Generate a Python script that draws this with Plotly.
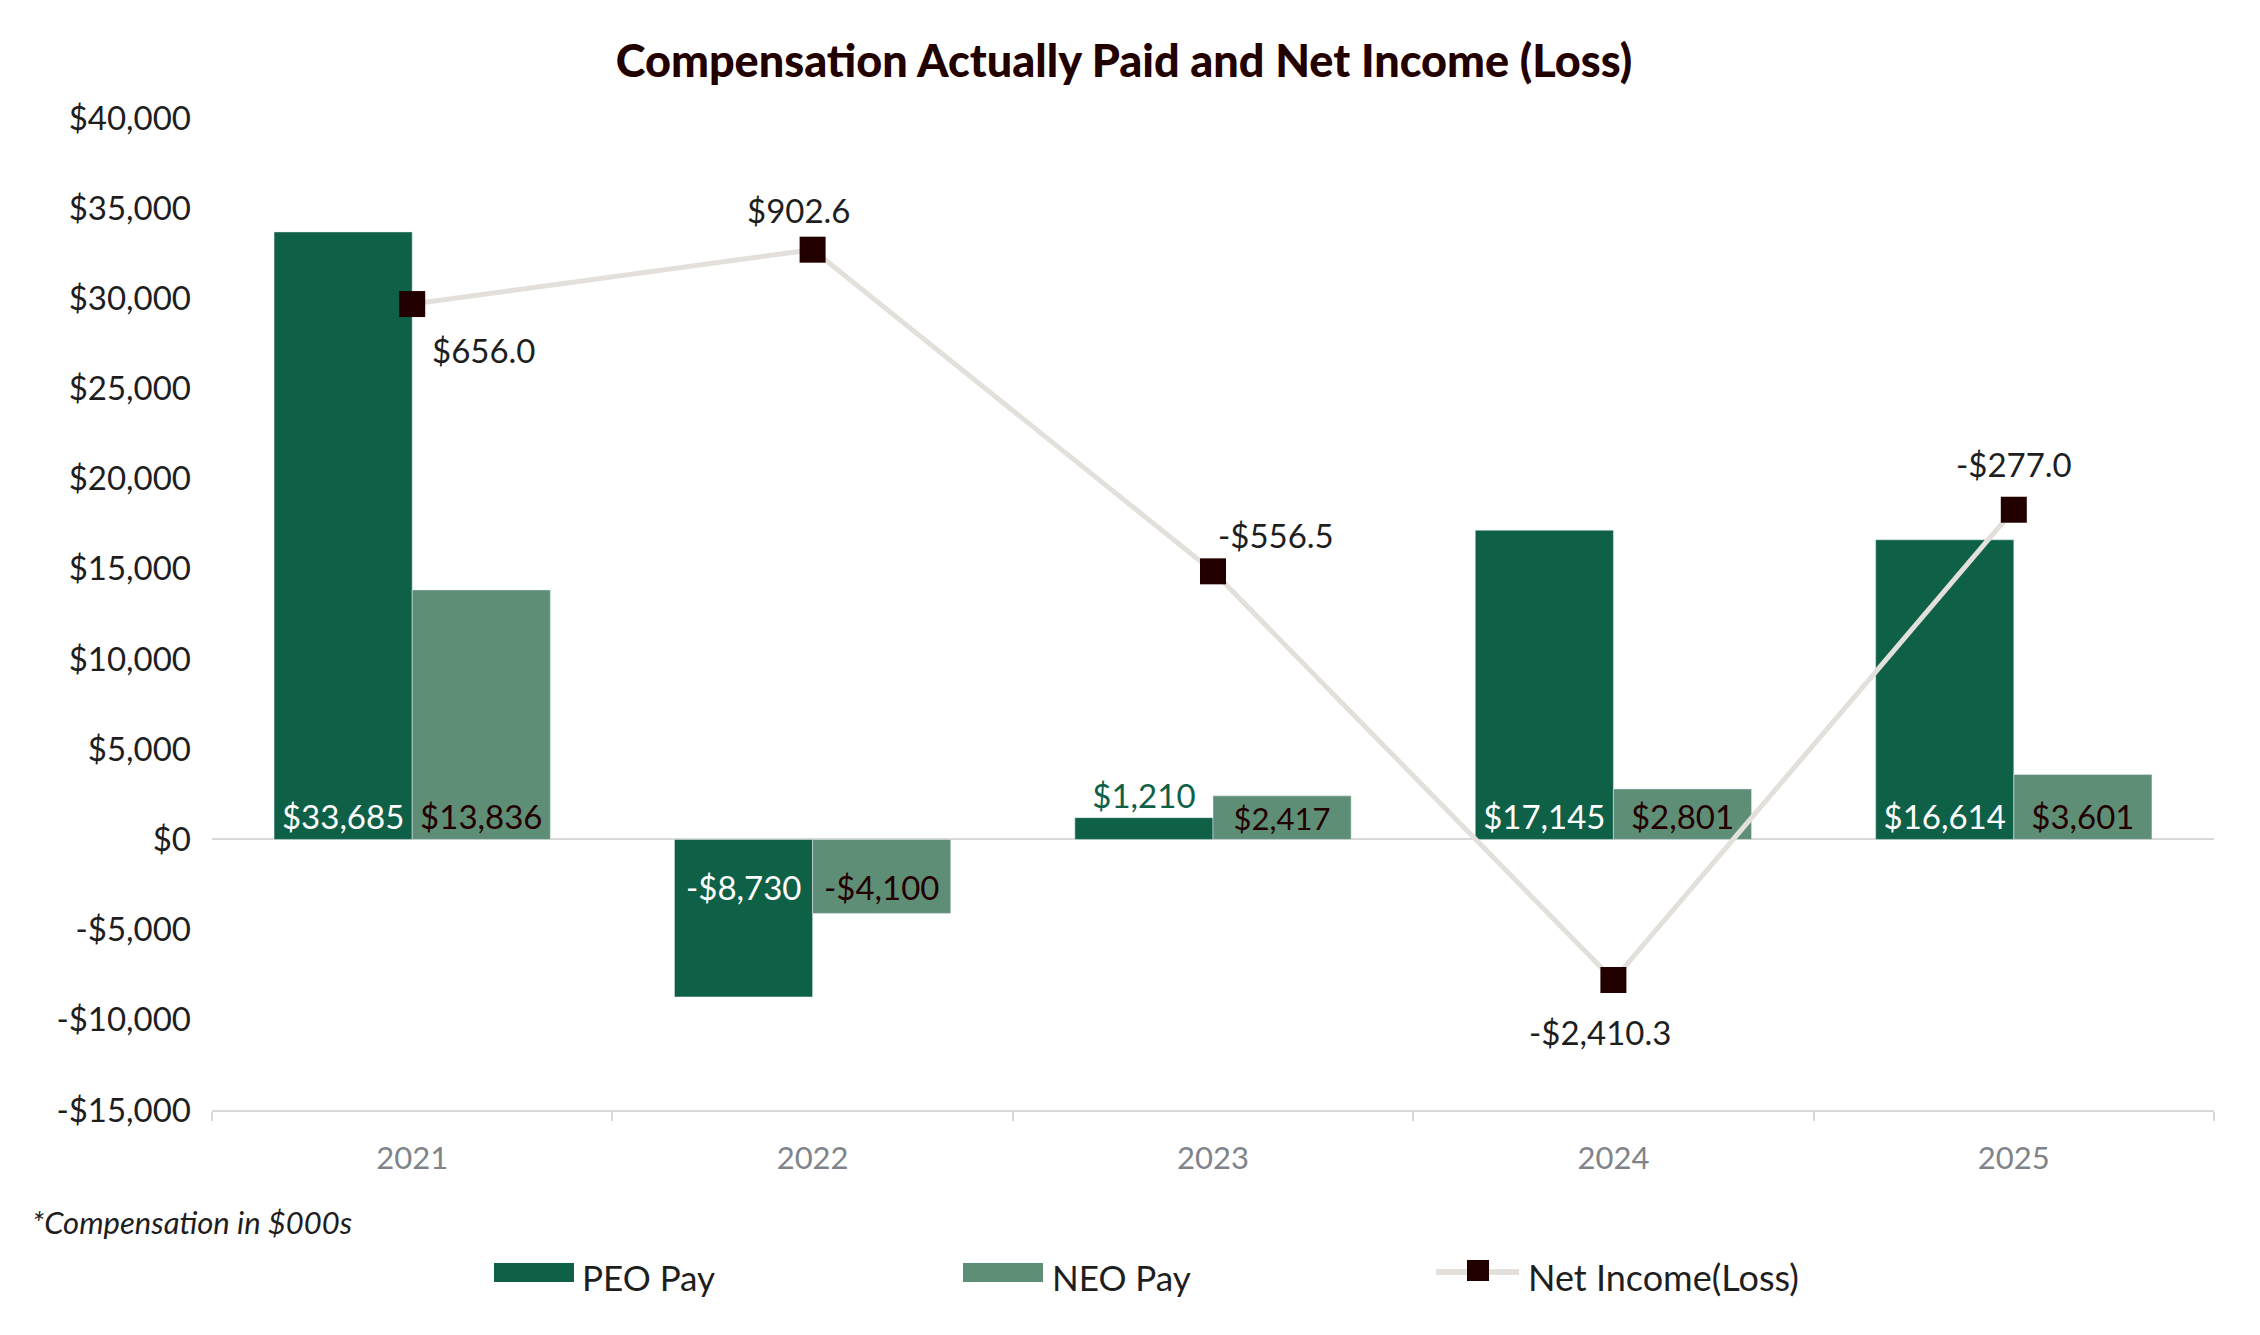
import plotly.graph_objects as go

# ---------------- data ----------------
years = ["2021", "2022", "2023", "2024", "2025"]
peo_pay = [33685, -8730, 1210, 17145, 16614]
neo_pay = [13836, -4100, 2417, 2801, 3601]
net_income = [656.0, 902.6, -556.5, -2410.3, -277.0]
y_ticks = [-15000, -10000, -5000, 0, 5000, 10000, 15000, 20000, 25000, 30000, 35000, 40000]

title_text = "Compensation Actually Paid and Net Income (Loss)"
footnote_text = "*Compensation in $000s"
legend_names = ["PEO Pay", "NEO Pay", "Net Income(Loss)"]

# ---------------- styles ----------------
FONT = "Lato"
PEO_COLOR = "#0e6047"
NEO_COLOR = "#5f8e76"
LINE_COLOR = "#e3dfdb"
MARKER_COLOR = "#230000"
DARK_TEXT = "#1e1e1e"
AXIS_GRAY = "#d9d9d9"
LABEL_SIZE = 33

W, H = 2260, 1335
L, R, T, B = 212, 46, 118, 225
PW, PH = W - L - R, H - T - B
BARGAP = 0.31
BAR_OFFSET = PW / len(years) * (1 - BARGAP) / 4  # px from category centre to bar centre

# label placement for the net income points: (xanchor, xshift, yshift)
net_label_place = [("left", 18, -46), ("center", -14, 40), ("left", 3, 36),
                   ("center", -13, -52), ("center", 0, 46)]


def xp(px):
    return (px - L) / PW


def yp(py):
    return (H - B - py) / PH


def money0(v):
    return ("-$" if v < 0 else "$") + f"{abs(v):,.0f}"


def money1(v):
    return ("-$" if v < 0 else "$") + f"{abs(v):,.1f}"


peo_text = [money0(v) for v in peo_pay]
neo_text = [money0(v) for v in neo_pay]
net_text = [money1(v) for v in net_income]


def positions(vals):
    out = []
    for v in vals:
        if v < 0:
            out.append("none")
        elif v < 2000:
            out.append("outside")
        else:
            out.append("inside")
    return out


fig = go.Figure()

fig.add_trace(go.Bar(
    x=years, y=peo_pay, name=legend_names[0], marker_color=PEO_COLOR,
    text=peo_text, textposition=positions(peo_pay), insidetextanchor="start", textangle=0,
    insidetextfont=dict(family=FONT, size=LABEL_SIZE, color="white"),
    outsidetextfont=dict(family=FONT, size=LABEL_SIZE, color=PEO_COLOR),
    cliponaxis=False, showlegend=False, hoverinfo="skip",
))
fig.add_trace(go.Bar(
    x=years, y=neo_pay, name=legend_names[1], marker_color=NEO_COLOR,
    text=neo_text, textposition=positions(neo_pay), insidetextanchor="start", textangle=0,
    insidetextfont=dict(family=FONT, size=LABEL_SIZE, color=MARKER_COLOR),
    outsidetextfont=dict(family=FONT, size=LABEL_SIZE, color=MARKER_COLOR),
    cliponaxis=False, showlegend=False, hoverinfo="skip",
))
fig.add_trace(go.Scatter(
    x=years, y=net_income, name=legend_names[2], yaxis="y2",
    mode="lines+markers",
    line=dict(color=LINE_COLOR, width=5),
    marker=dict(symbol="square", size=26, color=MARKER_COLOR),
    cliponaxis=False, showlegend=False, hoverinfo="skip",
))

annotations = []
shapes = []

# negative bar labels (just below the zero line, inside the bar)
for vals, texts, sign, col in [(peo_pay, peo_text, -1, "white"), (neo_pay, neo_text, 1, MARKER_COLOR)]:
    for i, (v, t) in enumerate(zip(vals, texts)):
        if v < 0:
            annotations.append(dict(x=i, y=0, xref="x", yref="y", text=t, showarrow=False,
                                    xanchor="center", yanchor="middle",
                                    xshift=sign * BAR_OFFSET, yshift=-48,
                                    font=dict(family=FONT, size=LABEL_SIZE, color=col)))

# net income labels
for i, (v, t, (xa, xs, ys)) in enumerate(zip(net_income, net_text, net_label_place)):
    annotations.append(dict(x=i, y=v, xref="x", yref="y2", text=t, showarrow=False,
                            xanchor=xa, yanchor="middle", xshift=xs, yshift=ys,
                            font=dict(family=FONT, size=LABEL_SIZE, color=DARK_TEXT)))

# ---------------- custom legend ----------------
legend_y = 1272
swatches = [(494, 574, PEO_COLOR, 580), (963, 1043, NEO_COLOR, 1050)]
for (x0, x1, col, tx), name in zip(swatches, legend_names[:2]):
    shapes.append(dict(type="rect", xref="paper", yref="paper",
                       x0=xp(x0), x1=xp(x1), y0=yp(1263), y1=yp(1282),
                       fillcolor=col, line=dict(width=0)))
    annotations.append(dict(xref="paper", yref="paper", x=xp(tx), y=yp(1277),
                            xanchor="left", yanchor="middle", showarrow=False,
                            text=name, font=dict(family=FONT, size=35, color=DARK_TEXT)))
shapes.append(dict(type="line", xref="paper", yref="paper",
                   x0=xp(1436), x1=xp(1519), y0=yp(legend_y), y1=yp(legend_y),
                   line=dict(color=LINE_COLOR, width=6)))
shapes.append(dict(type="rect", xref="paper", yref="paper",
                   x0=xp(1467), x1=xp(1489), y0=yp(1260), y1=yp(1281),
                   fillcolor=MARKER_COLOR, line=dict(width=0)))
annotations.append(dict(xref="paper", yref="paper", x=xp(1526), y=yp(1277),
                        xanchor="left", yanchor="middle", showarrow=False,
                        text=legend_names[2], font=dict(family=FONT, size=36, color=DARK_TEXT)))

# footnote
annotations.append(dict(xref="paper", yref="paper", x=xp(30), y=yp(1222),
                        xanchor="left", yanchor="middle", showarrow=False,
                        text="<i>" + footnote_text + "</i>",
                        font=dict(family=FONT, size=31, color=DARK_TEXT)))

fig.update_layout(
    width=W, height=H,
    margin=dict(l=L, r=R, t=T, b=B, autoexpand=False),
    paper_bgcolor="white", plot_bgcolor="white",
    barmode="group", bargap=BARGAP, bargroupgap=0,
    title=dict(text=title_text, x=1124 / W, xref="container",
               xanchor="center", y=1 - 61 / H, yref="container", yanchor="middle",
               font=dict(family=FONT, size=45, color=MARKER_COLOR, weight=900)),
    font=dict(family=FONT, color=DARK_TEXT),
    xaxis=dict(
        type="category", categoryorder="array", categoryarray=years,
        range=[-0.5, len(years) - 0.5],
        showgrid=False, showline=True, linecolor=AXIS_GRAY, linewidth=2,
        ticks="outside", tickson="boundaries", ticklen=9, tickcolor=AXIS_GRAY, tickwidth=2,
        tickfont=dict(family=FONT, size=31, color="#80848a"), ticklabelstandoff=20,
    ),
    yaxis=dict(
        range=[-15000, 40000], tickvals=y_ticks, ticktext=[money0(v) for v in y_ticks],
        showgrid=False, zeroline=True, zerolinecolor=AXIS_GRAY, zerolinewidth=2,
        showline=False, ticks="", tickfont=dict(family=FONT, size=33, color=DARK_TEXT),
        ticklabelstandoff=20,
    ),
    yaxis2=dict(range=[-3000, 1500], overlaying="y", side="right", visible=False),
    shapes=shapes,
    annotations=annotations,
)

fig.write_html("out.html")
